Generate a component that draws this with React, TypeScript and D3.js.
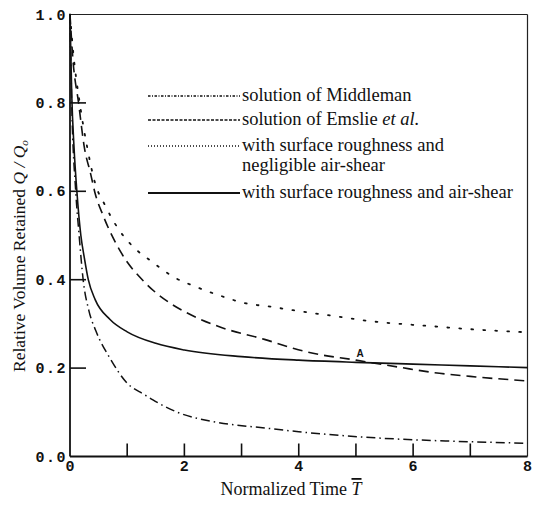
import React from "react";
import { scaleLinear, line, curveMonotoneX } from "d3";

// values: [normalized time, Q/Qo]
const middleman: [number, number][] = [
  [0, 1.0], [0.03, 0.8], [0.1, 0.6], [0.16, 0.5], [0.23, 0.4], [0.33, 0.33],
  [0.45, 0.285], [0.7, 0.222], [1.0, 0.166], [1.3, 0.14], [1.45, 0.128],
  [1.92, 0.098], [2.5, 0.079], [3.44, 0.064], [4.0, 0.056], [4.5, 0.05],
  [5.5, 0.041], [6.6, 0.035], [8, 0.03],
];
const emslie: [number, number][] = [
  [0, 1.0], [0.05, 0.9], [0.15, 0.8], [0.25, 0.7], [0.36, 0.64], [0.44, 0.595],
  [0.58, 0.545], [0.9, 0.46], [1.3, 0.395], [1.75, 0.347], [2.0, 0.328],
  [2.6, 0.294], [3.4, 0.265], [3.9, 0.245], [4.13, 0.237], [5.0, 0.218],
  [5.76, 0.202], [6.35, 0.19], [7.1, 0.18], [8, 0.171],
];
const roughNoShear: [number, number][] = [
  [0, 1.0], [0.06, 0.91], [0.17, 0.8], [0.3, 0.7], [0.44, 0.618], [0.61, 0.569],
  [0.84, 0.516], [1.1, 0.475], [1.43, 0.441], [1.8, 0.407], [2.2, 0.384],
  [2.6, 0.365], [3.06, 0.347], [3.5, 0.339], [3.9, 0.331], [4.6, 0.318],
  [5.2, 0.307], [6.3, 0.295], [7.0, 0.288], [8, 0.281],
];
const roughShear: [number, number][] = [
  [0, 1.0], [0.03, 0.82], [0.07, 0.7], [0.12, 0.6], [0.19, 0.5], [0.25, 0.45],
  [0.32, 0.4], [0.44, 0.355], [0.7, 0.31], [1.0, 0.282], [1.5, 0.256],
  [2.0, 0.241], [3.0, 0.226], [4.0, 0.218], [5.0, 0.213], [6.0, 0.209],
  [7.0, 0.205], [8, 0.201],
];

const xTicks = [1, 2, 3, 4, 5, 6, 7];
const xLabels = [0, 2, 4, 6, 8];
const yTicks = [0.2, 0.4, 0.6, 0.8];
const yLabels = [0, 0.2, 0.4, 0.6, 0.8, 1.0];

const W = 534;
const H = 505;

export default function App() {
  const x = scaleLinear().domain([0, 8]).range([70, 527.5]);
  const y = scaleLinear().domain([0, 1]).range([456.5, 14.5]);

  const path = line<[number, number]>()
    .x((d) => x(d[0]))
    .y((d) => y(d[1]))
    .curve(curveMonotoneX);

  const series = [
    { data: middleman, dash: "9 4 1.5 4", legendDash: "2.5 1.5 1 1.5", width: 1.5, label: "mid" },
    { data: emslie, dash: "10 6", legendDash: "3 1.5", width: 1.6, label: "ems" },
    { data: roughNoShear, dash: "1.8 10.2", legendDash: "1 2", width: 1.8, label: "dot" },
    { data: roughShear, dash: null, legendDash: null, width: 1.6, label: "solid" },
  ];
  const legendY = [96, 120, 146, 193];

  const mono = "'Liberation Mono', 'DejaVu Sans Mono', monospace";
  const serif = "'Liberation Serif', 'Times New Roman', serif";

  return (
    <svg
      width={W}
      height={H}
      style={{ position: "absolute", left: 0, top: 0, background: "#fff" }}
    >
      {/* frame */}
      <line x1={x(0)} x2={x(8)} y1={y(1)} y2={y(1)} stroke="#222" strokeWidth={1} />
      <line x1={x(8)} x2={x(8)} y1={y(1)} y2={y(0)} stroke="#222" strokeWidth={1.2} />
      <line x1={x(0)} x2={x(0)} y1={y(1)} y2={y(0)} stroke="#111" strokeWidth={1.8} />
      <line x1={x(0)} x2={x(8)} y1={y(0)} y2={y(0)} stroke="#111" strokeWidth={1.8} />

      {xTicks.map((t) => (
        <line key={"xt" + t} x1={x(t)} x2={x(t)} y1={y(0)} y2={y(0) - 13} stroke="#111" strokeWidth={1.6} />
      ))}
      {yTicks.map((t) => (
        <line key={"yt" + t} x1={x(0)} x2={x(0) + 16} y1={y(t)} y2={y(t)} stroke="#111" strokeWidth={1.6} />
      ))}

      {yLabels.map((t) => (
        <text
          key={"yl" + t}
          x={67}
          y={y(t) + 5}
          textAnchor="end"
          fontFamily={mono}
          fontSize={15}
          fontWeight="bold"
          letterSpacing={1.5}
          fill="#111"
        >
          {t.toFixed(1)}
        </text>
      ))}
      {xLabels.map((t) => (
        <text
          key={"xl" + t}
          x={x(t)}
          y={471}
          textAnchor="middle"
          fontFamily={mono}
          fontSize={15}
          fontWeight="bold"
          fill="#111"
        >
          {t}
        </text>
      ))}

      {/* curves */}
      {series.map((s) => (
        <path
          key={s.label}
          d={path(s.data) ?? ""}
          fill="none"
          stroke="#111"
          strokeWidth={s.width}
          strokeDasharray={s.dash ?? undefined}
          strokeLinecap={s.label === "dot" ? "round" : "butt"}
        />
      ))}

      <text x={360} y={357} textAnchor="middle" fontFamily="'Liberation Sans', Arial, sans-serif" fontSize={10} fontWeight="bold" fill="#111">
        A
      </text>

      {/* legend */}
      {series.map((s, i) => (
        <line
          key={"lg" + s.label}
          x1={148}
          x2={240}
          y1={legendY[i]}
          y2={legendY[i]}
          stroke="#111"
          strokeWidth={s.label === "solid" ? 1.8 : 1.3}
          strokeDasharray={s.legendDash ?? undefined}
        />
      ))}
      <g fontFamily={serif} fontSize={18.5} fill="#111">
        <text x={242} y={legendY[0] + 5}>solution of Middleman</text>
        <text x={242} y={legendY[1] + 5}>
          solution of Emslie <tspan fontStyle="italic">et al.</tspan>
        </text>
        <text x={242} y={legendY[2] + 5}>with surface roughness and</text>
        <text x={242} y={legendY[2] + 25}>negligible air-shear</text>
        <text x={242} y={legendY[3] + 5}>with surface roughness and air-shear</text>
      </g>

      {/* axis titles */}
      <text x={291} y={495} textAnchor="middle" fontFamily={serif} fontSize={18} fill="#111">
        Normalized Time{" "}
        <tspan fontStyle="italic" style={{ textDecoration: "overline" }}>T</tspan>
      </text>
      <text
        transform="translate(25,372) rotate(-90)"
        fontFamily={serif}
        fontSize={17.5}
        fill="#111"
      >
        Relative Volume Retained{"  "}
        <tspan fontStyle="italic">Q / Q</tspan>
        <tspan fontStyle="italic" fontSize={11} dy={3}>o</tspan>
      </text>
    </svg>
  );
}
